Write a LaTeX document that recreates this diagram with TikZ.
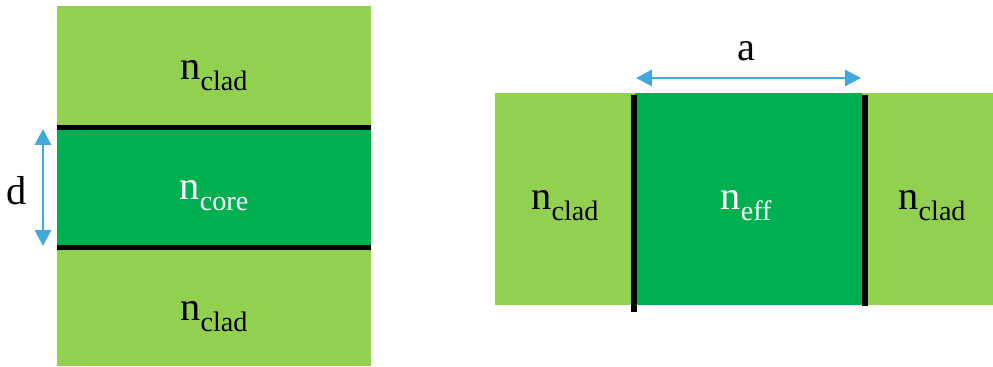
\documentclass[tikz,border=0pt]{standalone}
\usepackage{fontspec}
\setmainfont{Liberation Serif}
\usetikzlibrary{arrows.meta, positioning}
\definecolor{cladcolor}{HTML}{92D050}
\definecolor{corecolor}{HTML}{00B050}
\definecolor{dimcolor}{HTML}{41A8DD}
\newcommand{\idx}[1]{n\raisebox{-5.7pt}{\fontsize{16}{16}\selectfont #1}}

\begin{document}
\begin{tikzpicture}[x=0.02cm, y=-0.02cm,
    lbl/.style={font=\fontsize{23}{26}\selectfont, inner sep=0},
    wall/.style={line width=3.3pt},
    dim/.style={dimcolor, line width=1.7pt, {Triangle[length=9pt,width=9pt]}-{Triangle[length=9pt,width=9pt]}}
]
    \useasboundingbox (0,0) rectangle (993,367);

    % slab waveguide
    \fill[cladcolor] (57,6) rectangle (371,366);
    \fill[corecolor] (57,128) rectangle (371,248);
    \coordinate (ctl) at (57,127.5);
    \coordinate (ctr) at (371,127.5);
    \coordinate (cbl) at (57,247.5);
    \coordinate (cbr) at (371,247.5);
    \draw[wall] (ctl) -- (ctr);
    \draw[wall] (cbl) -- (cbr);

    \coordinate (dtop) at (43,129);
    \coordinate (dbot) at (43,246);
    \draw[dim] (dtop) -- (dbot);
    \node[lbl] (dlbl) at (17,191) {d};

    \node[lbl, anchor=base] (clad1) at (214,80) {\idx{clad}};
    \node[lbl, anchor=base, white] (core) at (214,200) {\idx{core}};
    \node[lbl, anchor=base] (clad2) at (214,321) {\idx{clad}};

    % effective index
    \fill[cladcolor] (495,93) rectangle (993,305);
    \fill[corecolor] (635,93) rectangle (862,305);
    \coordinate (wlt) at (634,95);
    \coordinate (wlb) at (634,312);
    \coordinate (wrt) at (865,95);
    \coordinate (wrb) at (865,306);
    \draw[wall] (wlt) -- (wlb);
    \draw[wall] (wrt) -- (wrb);

    \coordinate (aleft) at (636,78);
    \coordinate (aright) at (861,78);
    \draw[dim] (aleft) -- (aright);
    \node[lbl] (albl) at (746,51) {a};

    \node[lbl, anchor=base] (cladl) at (565,210) {\idx{clad}};
    \node[lbl, anchor=base, white] (eff) at (746,210) {\idx{eff}};
    \node[lbl, anchor=base] (cladr) at (932,210) {\idx{clad}};
\end{tikzpicture}
\end{document}
